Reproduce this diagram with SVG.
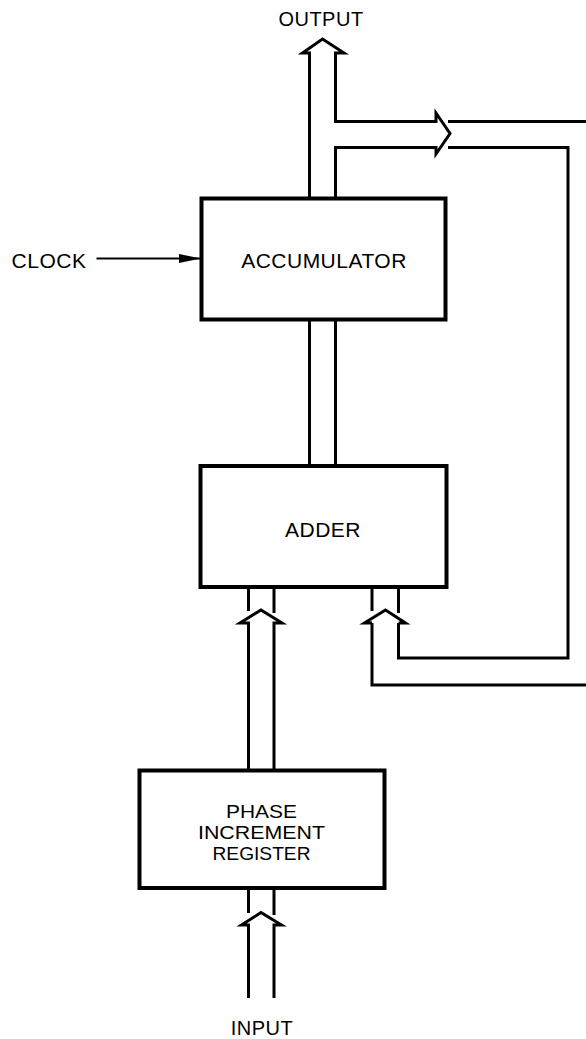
<svg xmlns="http://www.w3.org/2000/svg" width="586" height="1039" viewBox="0 0 586 1039">
<style>
.box{fill:#fff;stroke:#000;stroke-width:4}
.bus{fill:none;stroke:#000;stroke-width:3;stroke-linejoin:miter;stroke-linecap:butt}
.thin{fill:none;stroke:#000;stroke-width:2}
text{font-family:"Liberation Sans",Arial,sans-serif;font-size:21px;letter-spacing:0.5px;fill:#000;text-anchor:middle}
.pir{font-size:18px;letter-spacing:0}
</style>
<defs>
<marker id="ah" markerWidth="22" markerHeight="9" refX="22" refY="4.5" orient="auto" markerUnits="userSpaceOnUse">
<path d="M0,0 L22,4.5 L0,9 Z" fill="#000"/>
</marker>
</defs>
<rect width="586" height="1039" fill="#fff"/>
<g id="connectors">
<path class="bus" d="M309.5,198 V53 H302.5 L322.5,39 L344,53 H335.5 V121.5 H436 V113 L450,133.5 L436,154 V147.5 H335.5 V198"/>
<path class="bus" d="M448,121.5 H590"/>
<path class="bus" d="M448,147.5 H568 V658 H398.5 V623"/>
<path class="bus" d="M590,685 H372 V623"/>
<path class="bus" d="M309.5,319 V466 M335.5,319 V466"/>
<path class="bus" d="M372,587 V611 M398.5,587 V613"/>
<path class="bus" d="M372,623 H364.5 L385.5,610 L405.5,623 H398.5"/>
<path class="bus" d="M248.5,587 V611 M274,587 V613"/>
<path class="bus" d="M248.5,770 V623 H240 L261,610 L282,623 H274 V770"/>
<path class="bus" d="M248.5,888 V913 M274,888 V915"/>
<path class="bus" d="M248.5,998 V925 H241.5 L261,912.5 L281.5,925 H274 V998"/>
<line class="thin" x1="96.5" y1="258.5" x2="201" y2="258.5" marker-end="url(#ah)"/>
</g>
<g id="accumulator">
<rect class="box" x="201.5" y="198.5" width="244" height="121"/>
<text x="324" y="267.5">ACCUMULATOR</text>
</g>
<g id="adder">
<rect class="box" x="200.5" y="466" width="246" height="121"/>
<text x="323" y="537">ADDER</text>
</g>
<g id="pir">
<rect class="box" x="139.5" y="770.5" width="245" height="117.5"/>
<text class="pir" x="261.5" y="817.5" textLength="71" lengthAdjust="spacingAndGlyphs">PHASE</text>
<text class="pir" x="261.5" y="838.5" textLength="127" lengthAdjust="spacingAndGlyphs">INCREMENT</text>
<text class="pir" x="261.5" y="859.5" textLength="98" lengthAdjust="spacingAndGlyphs">REGISTER</text>
</g>
<g id="labels">
<text x="321" y="26" style="font-size:20px">OUTPUT</text>
<text x="49" y="268">CLOCK</text>
<text x="262" y="1035" style="font-size:20px">INPUT</text>
</g>
</svg>
